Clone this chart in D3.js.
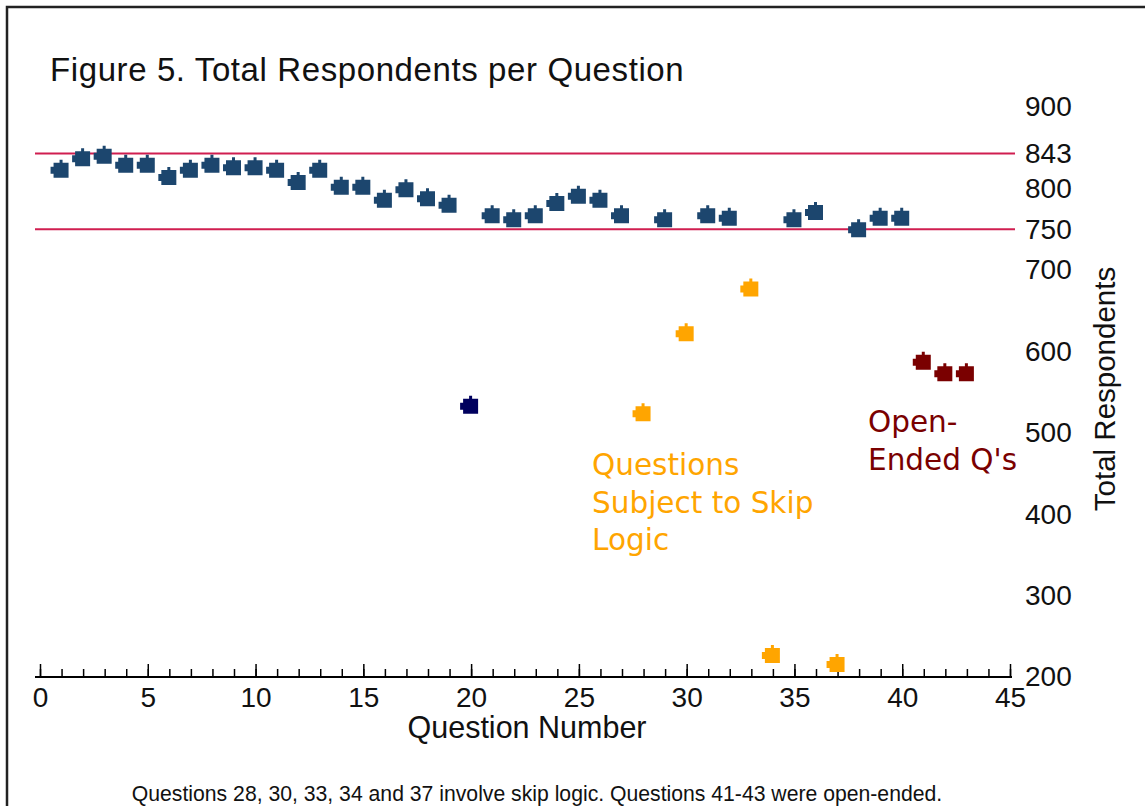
<!DOCTYPE html>
<html>
<head>
<meta charset="utf-8">
<script src="https://cdn.jsdelivr.net/npm/d3@7"></script>
<style>
  body { margin: 0; background: #fff; }
  svg { display: block; }
</style>
</head>
<body>
<div id="chart"></div>
<script>
// question numbers and total respondents
const questions = [1, 2, 3, 4, 5, 6, 7, 8, 9, 10, 11, 12, 13, 14, 15, 16, 17, 18, 19, 20,
  21, 22, 23, 24, 25, 26, 27, 28, 29, 30, 31, 32, 33, 34, 35, 36, 37, 38, 39, 40, 41, 42, 43];
const respondents = [823, 837, 840, 829, 829, 814, 823, 829, 826, 826, 823, 808, 823, 802, 802, 786, 799, 788, 780, 533,
  767, 762, 767, 782, 791, 786, 767, 524, 762, 622, 767, 764, 677, 227, 762, 771, 216, 750, 764, 764, 587, 573, 573];
const skipLogicQ = [28, 30, 33, 34, 37];
const openEndedQ = [41, 42, 43];
const outlierQ = [20];
const refLines = [843, 750];
const yTicks = [200, 300, 400, 500, 600, 700, 750, 800, 843, 900];
const xTicksMajor = [0, 5, 10, 15, 20, 25, 30, 35, 40, 45];

const width = 1145, height = 806;

const svg = d3.select("#chart")
    .append("svg")
    .attr("width", width)
    .attr("height", height);

// frame (runs off the right and bottom edge like the original)
svg.append("rect")
    .attr("x", 7).attr("y", 7)
    .attr("width", 1200).attr("height", 900)
    .attr("fill", "none")
    .attr("stroke", "#222")
    .attr("stroke-width", 2.5);

const x = d3.scaleLinear().domain([0, 45]).range([40, 1010]);
const y = d3.scaleLinear().domain([200, 900]).range([677, 107]);

// title
svg.append("text")
    .attr("x", 50).attr("y", 81)
    .text("Figure 5. Total Respondents per Question")
    .style("font-family", "Liberation Sans, Arial, sans-serif")
    .style("font-size", "33px")
    .style("letter-spacing", "0.6px")
    .style("fill", "#111");

// reference lines
svg.selectAll("line.ref")
    .data(refLines)
    .join("line")
    .attr("class", "ref")
    .attr("x1", 35).attr("x2", 1015)
    .attr("y1", d => y(d)).attr("y2", d => y(d))
    .attr("stroke", "#d01e50")
    .attr("stroke-width", 2);

// x axis: minor ticks every question, major every 5
const minorAxis = d3.axisBottom(x)
    .tickValues(d3.range(0, 46))
    .tickSizeInner(-8)
    .tickSizeOuter(0)
    .tickFormat("");
svg.append("g")
    .attr("transform", "translate(0,677)")
    .call(minorAxis)
    .call(g => g.select(".domain").attr("stroke-width", 2).attr("d", "M35,0H1012"))
    .call(g => g.selectAll(".tick line").attr("stroke-width", 1.5));

const majorAxis = d3.axisBottom(x)
    .tickValues(xTicksMajor)
    .tickSizeInner(-13)
    .tickSizeOuter(0)
    .tickPadding(10);
svg.append("g")
    .attr("transform", "translate(0,677)")
    .call(majorAxis)
    .call(g => g.select(".domain").remove())
    .call(g => g.selectAll(".tick line").attr("stroke-width", 1.5))
    .call(g => g.selectAll("text")
        .style("font-family", "Liberation Sans, Arial, sans-serif")
        .style("font-size", "28px")
        .attr("fill", "#111"));

// y axis labels on the right
const yAxis = d3.axisRight(y)
    .tickValues(yTicks)
    .tickSize(0)
    .tickPadding(10);
svg.append("g")
    .attr("transform", "translate(1015,0)")
    .call(yAxis)
    .call(g => g.select(".domain").remove())
    .call(g => g.selectAll("text")
        .style("font-family", "Liberation Sans, Arial, sans-serif")
        .style("font-size", "28px")
        .attr("fill", "#111"));

// axis titles
svg.append("text")
    .attr("x", 527).attr("y", 738)
    .attr("text-anchor", "middle")
    .text("Question Number")
    .style("font-family", "Liberation Sans, Arial, sans-serif")
    .style("font-size", "30.5px")
    .style("fill", "#111");

svg.append("text")
    .attr("transform", "translate(1115,389) rotate(-90)")
    .attr("text-anchor", "middle")
    .text("Total Respondents")
    .style("font-family", "Liberation Sans, Arial, sans-serif")
    .style("font-size", "29.5px")
    .style("fill", "#111");

// markers
const data = questions.map((q, i) => ({ q: q, v: respondents[i] }));

function colorFor(q) {
    if (skipLogicQ.includes(q)) return "#ffa500";
    if (openEndedQ.includes(q)) return "#7a0000";
    if (outlierQ.includes(q)) return "#00005e";
    return "#1c466e";
}

// square with a small nub on top and on the left
const markerPath = "M-7,-7H-1V-10H2V-7H8V8H-7V4H-10V-3H-7Z";

svg.selectAll("path.pt")
    .data(data)
    .join("path")
    .attr("class", "pt")
    .attr("d", markerPath)
    .attr("transform", d => `translate(${x(d.q) - 1},${y(d.v)})`)
    .attr("fill", d => colorFor(d.q));

// annotations
const skipText = svg.append("text")
    .style("font-family", "DejaVu Sans, Verdana, sans-serif")
    .style("font-size", "29.5px")
    .style("fill", "#ffa500");
["Questions", "Subject to Skip", "Logic"].forEach((t, i) => {
    skipText.append("tspan").attr("x", 592).attr("y", 475 + i * 37.5).text(t);
});

const openText = svg.append("text")
    .style("font-family", "DejaVu Sans, Verdana, sans-serif")
    .style("font-size", "29.5px")
    .style("fill", "#7a0000");
["Open-", "Ended Q's"].forEach((t, i) => {
    openText.append("tspan").attr("x", 868).attr("y", 432 + i * 38).text(t);
});

// footnote
svg.append("text")
    .attr("x", 537).attr("y", 801)
    .attr("text-anchor", "middle")
    .text("Questions 28, 30, 33, 34 and 37 involve skip logic. Questions 41-43 were open-ended.")
    .style("font-family", "Liberation Sans, Arial, sans-serif")
    .style("font-size", "21.2px")
    .style("fill", "#111");
</script>
</body>
</html>
